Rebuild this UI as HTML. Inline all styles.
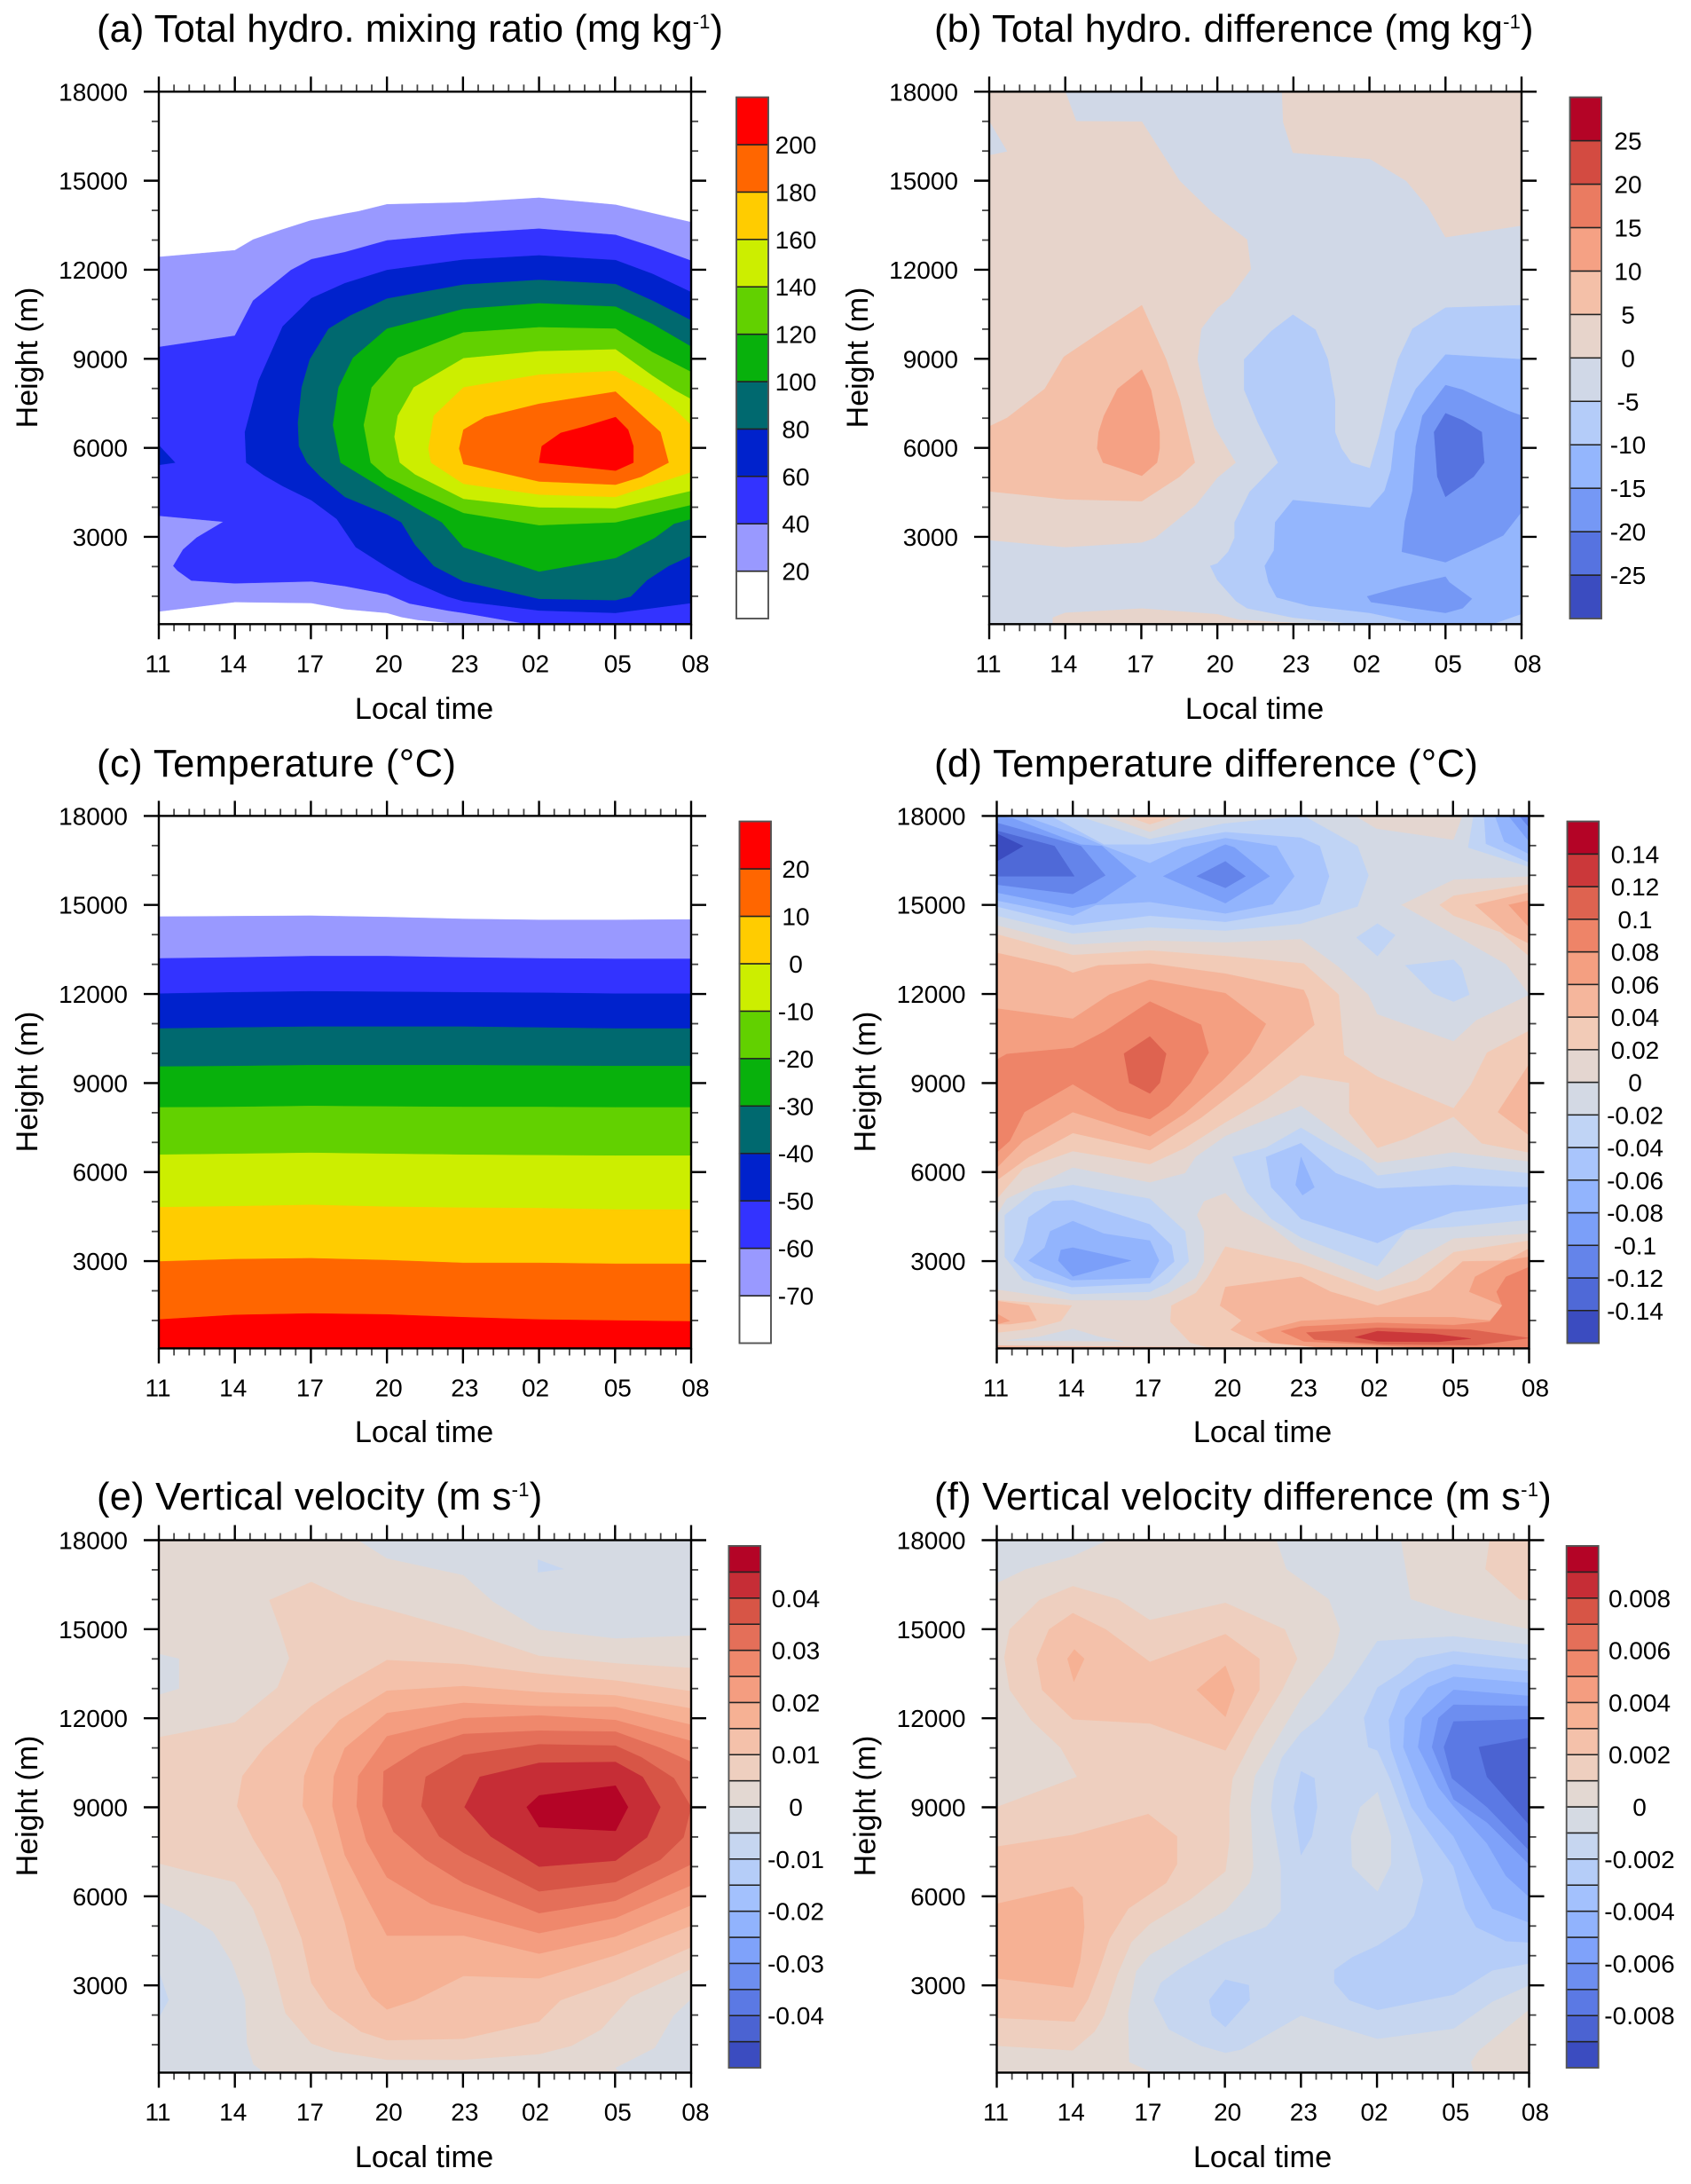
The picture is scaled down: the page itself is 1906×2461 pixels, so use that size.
<!DOCTYPE html>
<html lang="en">
<head>
<meta charset="utf-8">
<title>Diurnal contour panels</title>
<style>
html,body{margin:0;padding:0;background:#fff;}
svg{display:block;font-family:"Liberation Sans",Arial,sans-serif;fill:#000;}
</style>
</head>
<body>
<svg id="figure" xmlns="http://www.w3.org/2000/svg" width="1906" height="2461" viewBox="0 0 1906 2461">
<rect x="0" y="0" width="1906" height="2461" fill="#fff"/>
<defs id="clip-defs"></defs>

<g id="panel-a"></g>
<text x="109" y="47" font-size="43.5" letter-spacing="0.08">(a) Total hydro. mixing ratio (mg kg<tspan dy="-15" font-size="22">-1</tspan><tspan dy="15">)</tspan></text>
<text transform="translate(42 403) rotate(-90)" text-anchor="middle" font-size="34">Height (m)</text>
<text x="478" y="810" text-anchor="middle" font-size="34.3">Local time</text>

<g id="panel-b"></g>
<text x="1053" y="47" font-size="43.5" letter-spacing="0.13">(b) Total hydro. difference (mg kg<tspan dy="-15" font-size="22">-1</tspan><tspan dy="15">)</tspan></text>
<text transform="translate(978 403) rotate(-90)" text-anchor="middle" font-size="34">Height (m)</text>
<text x="1414" y="810" text-anchor="middle" font-size="34.3">Local time</text>

<g id="panel-c"></g>
<text x="109" y="875" font-size="43.5" letter-spacing="0.47">(c) Temperature (°C)</text>
<text transform="translate(42 1219) rotate(-90)" text-anchor="middle" font-size="34">Height (m)</text>
<text x="478" y="1625" text-anchor="middle" font-size="34.3">Local time</text>

<g id="panel-d"></g>
<text x="1053" y="875" font-size="43.5" letter-spacing="0.4">(d) Temperature difference (°C)</text>
<text transform="translate(986.5 1219) rotate(-90)" text-anchor="middle" font-size="34">Height (m)</text>
<text x="1423" y="1625" text-anchor="middle" font-size="34.3">Local time</text>

<g id="panel-e"></g>
<text x="109" y="1701" font-size="43.5" letter-spacing="0.23">(e) Vertical velocity (m s<tspan dy="-15" font-size="22">-1</tspan><tspan dy="15">)</tspan></text>
<text transform="translate(42 2035) rotate(-90)" text-anchor="middle" font-size="34">Height (m)</text>
<text x="478" y="2442" text-anchor="middle" font-size="34.3">Local time</text>

<g id="panel-f"></g>
<text x="1053" y="1701" font-size="43.5" letter-spacing="0.25">(f) Vertical velocity difference (m s<tspan dy="-15" font-size="22">-1</tspan><tspan dy="15">)</tspan></text>
<text transform="translate(986.5 2035) rotate(-90)" text-anchor="middle" font-size="34">Height (m)</text>
<text x="1423" y="2442" text-anchor="middle" font-size="34.3">Local time</text>
</svg>

<script>
/* ===== shared axis data ===== */
const timeLabels = ['11','14','17','20','23','02','05','08'];
const heightLabels = ['18000','15000','12000','9000','6000','3000'];
const heightTicks = [18000,15000,12000,9000,6000,3000];

/* ===== Panel (a): total hydrometeor contours, [hours since 11:00, metres] ===== */
const aBarLabels = ['200','180','160','140','120','100','80','60','40','20'];
const aLevel20 = [[0,12431],[3,12653],[3.72,13017],[4.79,13333],[5.96,13650],[7.34,13887],[7.87,13966],[9,14203],[12.02,14266],[15,14425],[18.02,14187],[19.47,13903],[21,13602],[21,60],[12.02,60],[10.2,203],[9.57,298],[9,440],[7.34,566],[6.02,772],[3,804],[1.38,630],[0,487]];
const aLevel40 = [[0,9394],[3,9774],[3.72,10960],[5.21,11988],[6.02,12352],[7.34,12590],[9,12985],[12.02,13222],[15,13381],[18.02,13175],[19.47,12779],[21,12305],[21,60],[14.57,60],[12.02,440],[11.38,519],[9.89,756],[9,1073],[7.34,1342],[6.02,1500],[3,1436],[1.28,1531],[0.74,1864],[0.57,2022],[0.96,2575],[1.49,2971],[2.55,3509],[0,3715]];
const aLevel60 = [[3.45,5502],[3.4,6530],[3.94,8271],[4.89,10090],[6.02,11039],[7.34,11545],[9,11988],[12.02,12336],[15,12479],[18.02,12321],[19.47,11862],[21,11245],[21,772],[18.02,440],[15,519],[12.02,835],[11.38,994],[9.89,1547],[9,1990],[7.77,2655],[7.02,3604],[6.02,4237],[4.89,4711],[4.15,5075]];
const aLevel60Tip = [[0,6088],[0.64,5502],[0,5423]];
const aLevel80 = [[5.96,8983],[6.7,10011],[7.55,10454],[9,11023],[12.02,11498],[15,11656],[18.02,11514],[19.47,10960],[21,10296],[21,2370],[20.11,2022],[19.26,1547],[18.62,994],[18.02,867],[15,914],[12.02,1500],[10.85,2022],[10.11,2734],[9.57,3493],[9,3762],[7.34,4347],[6.38,5028],[5.85,5502],[5.53,6056],[5.49,6847],[5.64,8033]];
const aLevel100 = [[7.09,8033],[7.66,9030],[9,10011],[12.02,10675],[15,10865],[18.02,10754],[19.47,10169],[21,9410],[21,3604],[20.32,3446],[19.57,2971],[18.02,2291],[15,1832],[12.02,2655],[11.17,3493],[10.11,3999],[9,4553],[7.17,5502],[6.87,6768]];
const aLevel120 = [[8.4,8033],[9.43,9030],[12.02,9884],[15,10058],[18.02,10011],[19.47,9220],[21,8555],[21,4078],[18.02,3493],[15,3398],[12.02,3809],[10.11,4553],[9,5028],[8.36,5502],[8.09,6768]];
const aLevel140 = [[9.43,7084],[10.06,8033],[12.02,9014],[15,9252],[18.02,9315],[19.47,8429],[20.32,7954],[21,7638],[21,4553],[18.02,3968],[15,3999],[12.02,4284],[10.11,5107],[9.51,5502],[9.3,6372]];
const aLevel160 = [[10.64,5977],[10.85,7084],[12.02,8033],[15,8461],[18.02,8587],[19.47,7875],[20.32,7321],[21,6768],[21,5186],[18.02,4347],[15,4426],[12.02,4790],[10.74,5502]];
const aLevel180 = [[11.85,5977],[12.02,6610],[12.87,7037],[15,7480],[18.02,7891],[19.79,6530],[20.11,5502],[19.04,5028],[18.02,4759],[15,4869],[12.02,5455]];
const aLevel200 = [[15,5502],[15.11,6056],[15.85,6499],[16.81,6720],[18.02,7037],[18.51,6610],[18.72,6056],[18.72,5502],[18.02,5233]];

/* ===== Panel (b): total hydrometeor difference ===== */
const bBarLabels = ['25','20','15','10','5','0','-5','-10','-15','-20','-25'];
const bZeroLeft = [[0,18000],[3,18000],[3.43,17003],[6.02,16988],[7.51,14994],[8.79,13934],[10.17,13017],[10.32,12020],[9.47,11039],[9,10723],[8.36,10011],[8.21,8983],[8.47,7875],[8.89,6689],[9.72,5502],[9,4996],[8.15,4078],[6.55,2971],[6.02,2813],[3,2655],[0,2892]];
const bZeroNotch = [[0,17003],[0.7,15991],[0,15864]];
const bZeroTopRight = [[11.55,18000],[21,18000],[21,13491],[18,13096],[17.3,14124],[16.45,14994],[15.02,15738],[11.98,15943],[11.6,16972]];
const bZeroBottom = [[2.51,60],[2.51,282],[3,440],[6.02,582],[9,392],[9.85,203],[13,60]];
const bPlus5 = [[0,6720],[0.7,7005],[2.19,7986],[2.94,9062],[4.32,9853],[6.02,10802],[6.98,8983],[7.51,7638],[8.11,5502],[7.51,5028],[6.02,4205],[3,4268],[0,4537]];
const bPlus10 = [[6.02,8635],[6.38,7954],[6.72,6530],[6.72,5977],[6.62,5502],[6.02,5059],[5.17,5312],[4.49,5502],[4.26,5977],[4.32,6530],[4.53,7084],[5.06,7986]];
const bMinus5 = [[10.06,8983],[11.13,9932],[11.98,10485],[12.87,9979],[13.36,8983],[13.64,7638],[13.64,6530],[13.89,5977],[14.28,5502],[15.02,5312],[15.38,6372],[15.81,7954],[16.13,8983],[16.7,10011],[18,10723],[21,10802],[21,60],[14.53,60],[11.98,282],[10.17,598],[9.74,835],[9,1547],[8.72,2022],[9,2101],[9.43,2496],[9.68,2971],[9.68,3493],[10.28,4521],[11.4,5502],[10.6,6847],[10.06,7954]];
const bMinus10 = [[11.28,3493],[11.98,4237],[15.02,3983],[15.6,4553],[15.85,5265],[16.02,6530],[16.83,7986],[18,9141],[21,8983],[21,408],[19.85,60],[17.09,60],[15.02,440],[12.62,677],[11.34,962],[11.02,1468],[10.87,2022],[11.23,2544]];
const bMinus15Main = [[16.28,2496],[16.4,3525],[16.7,4553],[16.83,6056],[17.09,7084],[18,8112],[18.68,7954],[20.49,7242],[21,7084],[21,3841],[20.28,3050],[19.32,2655],[18,2148]];
const bMinus15Low = [[14.91,994],[16.23,1310],[18,1658],[18.15,1468],[19.04,914],[18.68,598],[18,440],[15.06,804]];
const bMinus20 = [[18,7163],[18.68,6926],[19.43,6530],[19.53,5502],[19.11,5028],[18,4347],[17.68,5028],[17.55,6530]];

/* ===== Panel (c): temperature band tops sampled at synoptic hours ===== */
const cBarLabels = ['20','10','0','-10','-20','-30','-40','-50','-60','-70'];
const cHours = [0,3,6,9,12,15,18,21];
const cTopMinus70 = [14606,14622,14637,14590,14528,14497,14497,14512];
const cTopMinus60 = [13199,13230,13277,13277,13230,13199,13183,13183];
const cTopMinus50 = [12010,12057,12088,12073,12057,12041,12010,12010];
const cTopMinus40 = [10837,10868,10900,10900,10900,10868,10837,10837];
const cTopMinus30 = [9554,9570,9601,9601,9601,9586,9570,9570];
const cTopMinus20 = [8178,8194,8225,8209,8194,8194,8178,8178];
const cTopMinus10 = [6583,6614,6646,6614,6583,6567,6552,6552];
const cTopZero = [4815,4846,4893,4831,4800,4784,4737,4737];
const cTopPlus10 = [2986,3064,3095,3033,2939,2939,2908,2908];
const cTopPlus20 = [1031,1187,1234,1203,1109,1031,1000,969];

/* ===== Panel (d): temperature difference ===== */
const dBarLabels = ['0.14','0.12','0.1','0.08','0.06','0.04','0.02','0','-0.02','-0.04','-0.06','-0.08','-0.1','-0.12','-0.14'];
const dM00Top = [[0,18000],[4.23,18000],[6.04,17453],[7.85,18000],[14.13,18000],[14.98,17563],[18.02,17187],[18.38,18000],[21,18000],[21,15967],[18.02,15858],[15.94,15000],[17.85,14090],[20.09,12996],[21,11979],[18.91,11119],[18.02,10415],[15.02,11322],[14.66,11979],[13.49,12917],[12,13856],[9.02,13746],[6.04,13809],[3,13668],[0,14325]];
const dM02Top = [[0,18000],[3.17,18000],[6.04,17218],[8.91,17735],[12.11,18000],[14.23,16984],[14.66,15998],[14.23,14951],[12,14372],[9.02,14137],[6.04,14247],[3,14044],[0,14638]];
const dM04Top = [[0,18000],[2.11,18000],[4.23,17031],[6.04,17031],[9.02,17453],[12,17265],[12.74,16984],[13.11,15967],[12.74,15029],[12,14841],[9.02,14434],[6.04,14638],[3,14325],[0,14951]];
const dM06Top = [[0,18000],[1.04,18000],[3.38,17297],[4.23,16984],[6.04,16405],[7.32,16937],[9.02,17250],[11.04,16984],[11.74,15967],[10.89,15029],[9.02,14716],[6.04,15107],[3.91,14998],[3,14638],[0,15154]];
const dM08TopLeft = [[0,18000],[0.62,17922],[3.32,17031],[4.15,16984],[5.51,15967],[3.91,15060],[3,14904],[0,15420]];
const dM08TopMid = [[6.57,15967],[8.74,16937],[9.02,17031],[9.38,16937],[10.77,15967],[9.02,15060]];
const dM10TopLeft = [[0,17766],[3.32,16984],[4.28,15998],[3,15373],[0,15686]];
const dM10TopMid = [[7.89,15967],[9.02,16468],[9.81,15967],[9.02,15576]];
const dM12TopLeft = [[0,17500],[2.28,16984],[3.06,15967],[0,15967]];
const dM14TopLeft = [[0,17406],[1.04,16984],[0,16468]];
const dM02Corner = [[18.81,18000],[18.6,16937],[21,16280],[21,18000]];
const dM04Corner = [[19.23,18000],[19.3,17062],[21,16436],[21,18000]];
const dM06Corner = [[19.66,18000],[20.02,17140],[21,16718],[21,18000]];
const dM08Corner = [[20.19,18000],[21,17140],[21,18000]];
const dM10Corner = [[20.62,18000],[21,17609],[21,18000]];
const dM02BlobA = [[14.19,13903],[15.02,14372],[15.72,13981],[15.02,13277]];
const dM02BlobB = [[16.11,12964],[18.02,13152],[18.34,12870],[18.64,11979],[18.02,11745],[17.21,12026]];
const dP02Wedge = [[17.47,15000],[18.02,15310],[21,15686],[21,13277],[19.87,14090],[18.02,14638]];
const dP04Wedge = [[18.87,15000],[21,15420],[21,13699],[20.09,14090]];
const dP06Wedge = [[20.19,15000],[21,15154],[21,14247]];
const dP02TopTip = [[5.09,18000],[6.04,17719],[7.11,18000]];
const dP02Mid = [[0,14012],[3,13308],[6.04,13465],[9.02,13277],[12.11,13027],[13.49,11979],[13.7,9946],[15.02,9211],[18.02,8147],[18.7,8929],[19.34,10024],[21,10759],[21,6661],[19.13,6974],[18.02,7866],[16.15,7131],[15.02,6818],[13.91,7991],[13.91,9007],[12,9273],[10.62,8460],[9.02,7678],[7.43,6818],[6.04,6270],[3,6708],[1.04,6114],[0,5097]];
const dP04Mid = [[0,13387],[2.43,12917],[3,12714],[4.02,12964],[6.04,13027],[9.02,12683],[12.11,12135],[12.28,11823],[12.53,10962],[12,10571],[9.98,9086],[8.06,7834],[6.04,6740],[3,7318],[1.26,6505],[0,5723]];
const dP04Right = [[19.77,8022],[21,9633],[21,7240]];
const dP06Mid = [[0,11510],[3,11166],[4.45,11979],[6.04,12479],[9.02,12026],[10.62,10994],[9.98,10024],[8.91,9086],[7.43,7990],[6.04,7209],[3,8022],[1.04,7052],[0,6145]];
const dP08Mid = [[0,9789],[0.4,9977],[3,10180],[4.23,10728],[6.04,11744],[8.06,10962],[8.36,10024],[7.64,9007],[6.79,8225],[6.04,7787],[4.77,8069],[3,8960],[1.09,8022],[0.51,7052],[0,6661]];
const dP10Mid = [[5.02,9993],[6.04,10571],[6.68,9993],[6.43,9007],[6.04,8648],[5.23,9007]];
const dM00Low = [[0,4550],[0.4,5097],[3,6145],[6.04,5645],[7.43,5958],[7.85,6505],[9.02,7209],[12,8225],[15.02,6302],[18.02,6661],[21,6349],[21,3938],[18.02,3768],[15.02,2360],[12,3378],[10.83,4159],[9.66,4706],[9.02,5301],[8.17,5019],[7.89,4550],[8.17,4003],[8.17,2986],[7.85,2439],[6.79,1922],[5.94,1688],[2.96,1688],[0,2048]];
const dM02LowRight = [[9.3,6505],[10.62,6818],[12,7490],[13.17,6896],[14.45,6349],[15.02,5880],[18.02,6192],[21,5958],[21,4394],[18.02,4159],[16.15,4049],[15.02,2830],[12,3799],[10.83,4425],[9.87,5332]];
const dM04LowRight = [[10.62,6505],[12,6974],[13.38,5958],[15.02,5441],[18.02,5566],[21,5488],[21,4941],[18.02,4659],[16.36,4159],[15.02,3612],[12,4425],[10.83,5488]];
const dM06LowRight = [[12,6505],[12.53,5488],[12.06,5223],[11.79,5566]];
const dM02LowLeft = [[0.32,4550],[1.47,5332],[3,5566],[6.04,5097],[7.43,4003],[7.57,2986],[6.79,2282],[6.04,1969],[2.96,1891],[1.04,2360],[0.32,3143]];
const dM04LowLeft = [[1.26,4472],[2.21,5019],[3,5051],[6.04,4237],[6.89,3533],[7,2986],[6.04,2251],[2.96,2126],[1.47,2439],[0.66,3018],[1.04,3612]];
const dM06LowLeft = [[2.11,4003],[3,4347],[4.23,3924],[6.04,3690],[6.4,3018],[6.04,2439],[2.96,2360],[1.89,2752],[1.26,3018],[1.89,3455]];
const dM08LowLeft = [[2.53,3377],[3,3455],[5.3,3018],[3,2485],[2.43,3018]];
const dM00Patch = [[0.4,327],[1.68,452],[3,718],[4.02,452],[4.98,296]];
const dP02Left = [[0,1688],[2.96,1500],[2.53,985],[1.36,718],[0,593]];
const dP04Left = [[0,1657],[1.26,1500],[1.57,1000],[0.51,875],[0,875]];
const dP06Left = [[0,1233],[0.51,985],[0,875]];
const dP02Low = [[6.89,1500],[7.85,1922],[8.32,2439],[9.02,3486],[12,2908],[15.02,1969],[16.57,2360],[18.02,3299],[21,3690],[21,60],[8.5,60],[7.64,250],[6.85,953]];
const dP04Low = [[8.81,1500],[9.02,2126],[12,2470],[13.17,1969],[15.02,1500],[17.11,2016],[18.38,2986],[20.09,3018],[21,3424],[21,60],[13.17,60],[10.19,296],[9.23,687],[9.66,1000]];
const dP04Base = [[0,150],[9,90],[9,60],[0,60]];
const dP06Low = [[10.23,593],[12,985],[15.02,1109],[18.02,1109],[19.45,1000],[19.98,1500],[18.64,1969],[18.87,2470],[20.09,3018],[21,3143],[21,60],[13.17,60],[10.83,250]];
const dP08Low = [[11.21,640],[12,796],[15.02,921],[18.02,843],[19.45,953],[19.94,1500],[19.72,1969],[20.09,2470],[21,2798],[21,90],[18.1,60],[17.43,60],[12.11,296]];
const dP10Low = [[12.21,593],[15.02,750],[18.7,687],[21,406],[18.91,171],[15.3,202],[12.53,358]];
const dP12Low = [[14.13,437],[15.02,640],[17.21,546],[18.7,390],[17.43,280],[15.02,296]];

/* ===== Panel (e): vertical velocity ===== */
const eBarLabels = ['0.04','0.03','0.02','0.01','0','-0.01','-0.02','-0.03','-0.04'];
const eNegTopRight = [[7.87,18000],[21,18000],[21,14788],[18.02,14694],[15,14992],[13.19,15932],[12.02,16825],[9,17389]];
const eNegLeftSmall = [[0,14161],[0.79,14005],[0.79,13002],[0,12798]];
const eNegBottomLeft = [[0,5794],[0.96,5433],[2.13,4806],[2.87,3787],[3.4,2534],[3.47,1045],[3.72,340],[4.15,60],[0,60]];
const eNegBottomRight = [[18.02,215],[19.57,888],[20.32,1985],[21,2534],[21,60],[18.19,60]];
const eNeg2Top = [[14.96,17342],[15.96,17029],[14.96,16919]];
const eNeg2Left = [[0,3474],[0.38,2503],[0,1907]];
const ePos005 = [[4.36,15979],[6.02,16590],[7.55,15979],[9,15666],[12.02,14945],[15,14099],[18.02,13848],[21,13691],[21,3553],[18.62,2613],[18.02,2064],[17.45,1516],[16.28,967],[15,685],[12.02,497],[9,497],[6.91,779],[6.02,1045],[5,2064],[4.36,4179],[3.72,5590],[3,6483],[1.6,6765],[0,7110],[0,11356],[3,11858],[4.68,13033],[5.15,14020],[4.79,14992]];
const ePos010 = [[3.09,9037],[3.3,10056],[4.15,10996],[6.02,12406],[7.13,13033],[9,13957],[12.02,13817],[15,13503],[18.02,13268],[21,12908],[21,4289],[18.02,3161],[15.85,2503],[15,1782],[12.02,1202],[9,1155],[7.98,1437],[6.7,2221],[6.02,3082],[5.64,4571],[4.79,6452],[3.72,7940]];
const ePos015 = [[5.68,9037],[5.74,10056],[6.17,10996],[7.13,11936],[9,12923],[12.02,13080],[15,12876],[18.02,12767],[21,12328],[21,5010],[18.02,4023],[15,3239],[12.02,3318],[10.11,2503],[9,2189],[8.4,2613],[7.77,3553],[7.34,5120],[6.06,8332]];
const ePos020 = [[6.85,9037],[6.91,10056],[7.34,10996],[9,12171],[12.02,12516],[15,12406],[18.02,12375],[21,11779],[21,5699],[18.02,4650],[15,4070],[12.02,4681],[9,4681],[8.19,5981],[7.34,7392]];
const ePos025 = [[7.81,9037],[7.87,10056],[9,11388],[12.02,12000],[15,12093],[18.02,11936],[21,11231],[21,6373],[18.02,5276],[15,4759],[10.74,5746],[9,6640],[8.19,7862]];
const ePos030 = [[8.83,9037],[8.87,10212],[10.32,10996],[12.02,11466],[15,11576],[18.02,11544],[19.79,10996],[21,10526],[21,7078],[18.02,5856],[15,5433],[12.02,6452],[10.53,7235],[9.26,8175]];
const ePos035 = [[10.36,9037],[10.53,10024],[12.02,10761],[15,11121],[18.02,11074],[19.04,10682],[20.32,9977],[21,9006],[20.7,7987],[19.79,7235],[18.02,6483],[15,6169],[12.02,7470],[11.06,8018]];
const ePos040 = [[12.06,9006],[12.66,10024],[15,10494],[18.02,10526],[19.09,10024],[19.79,9006],[19.26,7987],[18.02,7204],[15,7000],[13.09,8018]];
const ePos045 = [[14.51,9006],[15,9397],[18.02,9727],[18.51,9006],[18.02,8207],[15,8332]];

/* ===== Panel (f): vertical velocity difference ===== */
const fBarLabels = ['0.008','0.006','0.004','0.002','0','-0.002','-0.004','-0.006','-0.008'];
const fNegTopLeft = [[0,18000],[4.38,18000],[2.96,17452],[1.15,17029],[0,16559]];
const fNegCentral = [[11.04,18000],[15.94,18000],[16.32,16010],[18.02,15540],[21,14992],[21,2189],[19.02,810],[18.7,419],[18.81,60],[6.15,60],[5.23,419],[5.19,2064],[5.51,3474],[6.04,4023],[9.02,5511],[9.98,6452],[10.13,7000],[10.02,9006],[10.19,10056],[12,12641],[13.28,14052],[13.55,14992],[13.11,16010],[11.43,17029]];
const fPos1Corner = [[19.45,18000],[19.28,17029],[20.62,16010],[21,15979],[21,18000]];
const fPos1Main = [[0,9006],[3.17,10024],[2.53,10996],[1.36,11936],[0.51,12955],[0.3,14052],[0.51,14992],[1.68,15979],[3,16449],[4.77,16010],[6.04,15305],[9.02,15885],[11.36,14992],[11.85,14005],[11.26,12955],[10.19,11466],[9.3,9977],[9.17,9006],[9.17,7862],[9.02,6843],[7.64,5903],[6.04,5073],[5.3,4446],[4.77,3396],[4.23,1985],[3.85,1437],[3,810],[0,967]];
const fPos2Upper = [[1.57,14005],[2.06,14992],[3,15540],[4.3,14992],[6.04,13895],[9.02,14835],[10.36,14005],[10.36,12955],[9.02,10918],[6.04,11826],[3,11967],[1.79,12955]];
const fPos3TipA = [[2.79,14005],[3.06,14318],[3.45,14005],[3.04,13237]];
const fPos3TipB = [[7.89,12955],[9.02,13770],[9.38,12955],[9.02,12046]];
const fPos2Lower = [[0,7674],[3,8066],[5.98,8771],[7.11,8018],[7.11,7078],[6.68,6452],[5.19,5590],[4.45,4571],[4.02,3474],[3.6,2534],[3.06,1782],[0,1907]];
const fPos3Lower = [[0,5746],[3,6326],[3.38,5981],[3.45,4963],[3.28,3788],[3,2926],[0,3239]];
const fNeg2Main = [[15.02,14600],[18.02,14757],[21,14475],[21,3004],[19.55,2456],[18.02,1547],[15.02,1202],[12,1985],[9.66,842],[9.02,732],[8.06,967],[6.79,1516],[6.19,2503],[6.47,3082],[7.21,3553],[9.02,4446],[10.62,4963],[11.21,5511],[11.21,7000],[10.83,9006],[10.94,9899],[11.26,10682],[12,11513],[12.74,12014],[13.91,13190]];
const fNegLens = [[15.02,9507],[14.34,9006],[13.98,8018],[14.02,7000],[15.02,6169],[15.55,7078],[15.55,8018]];
const fNeg3Main = [[21,13973],[18.02,14255],[16.57,14020],[15.94,13534],[15.02,13033],[14.49,12014],[14.66,11027],[15.02,10918],[15.55,9899],[16.36,8018],[16.83,6530],[16.47,5355],[16.15,4963],[15.02,4336],[14.02,3944],[13.32,3521],[13.32,3082],[13.91,2503],[15.02,2174],[18.02,2691],[19.55,3506],[21,3741]];
const fNeg3Upper = [[12,10212],[12.53,9977],[12.64,9006],[12.43,8018],[12,7392],[11.72,9006]];
const fNeg3Lower = [[9.02,3192],[9.94,3004],[9.98,2503],[9.02,1594],[8.49,1985],[8.38,2503]];
const fNeg4 = [[21,13581],[18.02,13817],[17,13534],[15.94,12955],[15.47,11936],[15.55,10996],[16.36,9006],[18.02,7000],[18.49,5590],[18.91,4963],[20.09,4493],[21,4446]];
const fNeg5 = [[21,13190],[18.02,13393],[17,13033],[16.11,12014],[16.04,11027],[17,9006],[18.02,8018],[18.81,6686],[19.55,5590],[21,5120]];
const fNeg6 = [[21,12751],[18.02,12955],[16.79,12014],[16.62,11027],[17.43,9664],[18.02,9037],[19.34,7784],[20.09,6686],[21,5981]];
const fNeg7 = [[21,12406],[18.02,12453],[17.43,12014],[17.17,11027],[18.02,9272],[19.34,8489],[21,7078]];
const fNeg8 = [[21,11967],[18.02,11889],[17.64,11027],[17.96,9977],[19.34,9006],[21,7548]];
const fNeg9 = [[21,11341],[19.02,11027],[19.34,10024],[21,8410]];

/* ===== palettes and layout (styling, not data) ===== */
const rainbow = ['#ffffff','#9999ff','#3333ff','#0022cc','#00696f','#08b10c','#62d100','#ccee00','#ffcc00','#ff6600','#ff0000'];
const coolAnchors = [[59,76,192],[89,119,227],[123,159,249],[158,190,255],[192,212,245],[221,220,220],[242,203,183],[247,172,142],[238,132,104],[214,82,68],[180,4,38]];
function coolwarm(n){
  const out=[];
  for(let i=0;i<n;i++){
    const t=i/(n-1)*10, k=Math.min(9,Math.floor(t)), f=t-k;
    const c=coolAnchors[k].map((v,j)=>Math.round(v+(coolAnchors[k+1][j]-v)*f));
    out.push('rgb('+c.join(',')+')');
  }
  return out;
}
const FRAME=600, BOTTOM_H=60, HOURS=21;
const leftTickLabelNudge=[-1,-2,-1,2,2,-4,3,5];
const rightTickLabelNudge=[-1,-2,-1,3,3,-3,3,7];
const NS='http://www.w3.org/2000/svg';
function mk(tag,attrs,parent){
  const e=document.createElementNS(NS,tag);
  for(const k in attrs) e.setAttribute(k,attrs[k]);
  parent.appendChild(e);
  return e;
}

function drawPanel(p){
  const g=document.getElementById(p.id);
  const x=u=>p.L+u*FRAME/HOURS;
  const y=h=>p.T+(18000-h)*FRAME/(18000-BOTTOM_H);
  const defs=document.getElementById('clip-defs');
  const cp=mk('clipPath',{id:'clip-'+p.id},defs);
  mk('rect',{x:p.L,y:p.T,width:FRAME,height:FRAME},cp);

  const field=mk('g',{'clip-path':'url(#clip-'+p.id+')'},g);
  
  
  const bg=mk('rect',{x:p.L,y:p.T,width:FRAME,height:FRAME,fill:p.colors[p.base]},field);
  
  
  p.regions.forEach(r=>{
    const pts=r[1].map(q=>x(q[0]).toFixed(1)+','+y(q[1]).toFixed(1)).join(' ');
    const poly=mk('polygon',{points:pts,fill:p.colors[r[0]],stroke:p.colors[r[0]],'stroke-width':0.4},field);
    
    
  });

  const axes=mk('g',{stroke:'#000',fill:'none'},g);
  
  
  for(let i=0;i<=35;i++){
    const u=i*0.6, major=i%5===0, len=major?17:8;
    const sw=major?2.4:1.8, col=major?'#000':'#444';
    const a=mk('line',{x1:x(u),x2:x(u),y1:p.T,y2:p.T-len,'stroke-width':sw,stroke:col},axes);
    
    
    const b=mk('line',{x1:x(u),x2:x(u),y1:p.T+FRAME,y2:p.T+FRAME+len,'stroke-width':sw,stroke:col},axes);
    
    
  }
  for(let h=18000;h>=1000;h-=1000){
    const major=h%3000===0, len=major?17:8;
    const sw=major?2.4:1.8, col=major?'#000':'#444';
    const a=mk('line',{x1:p.L,x2:p.L-len,y1:y(h),y2:y(h),'stroke-width':sw,stroke:col},axes);
    
    
    const b=mk('line',{x1:p.L+FRAME,x2:p.L+FRAME+len,y1:y(h),y2:y(h),'stroke-width':sw,stroke:col},axes);
    
    
  }
  const frame=mk('rect',{x:p.L,y:p.T,width:FRAME,height:FRAME,fill:'none',stroke:'#000','stroke-width':2.4},axes);
  
  

  const nudge=p.L>600?rightTickLabelNudge:leftTickLabelNudge;
  timeLabels.forEach((s,i)=>{
    const t=mk('text',{x:x(i*3)+nudge[i],y:p.T+FRAME+54,'text-anchor':'middle','font-size':28},g);
    t.textContent=s;
    
    
  });
  heightTicks.forEach((h,i)=>{
    const t=mk('text',{x:p.L-35,y:y(h)+10,'text-anchor':'end','font-size':28},g);
    t.textContent=heightLabels[i];
    
    
  });

  const n=p.barColors.length, bh=(p.barB-p.barT)/n;
  const bar=mk('g',{},g);
  
  
  p.barColors.forEach((c,i)=>{
    const r=mk('rect',{x:p.barL,y:p.barB-(i+1)*bh,width:p.barR-p.barL,height:bh,fill:c,stroke:'#222','stroke-width':1.5},bar);
    
    
  });
  const outline=mk('rect',{x:p.barL,y:p.barT,width:p.barR-p.barL,height:p.barB-p.barT,fill:'none',stroke:'#555','stroke-width':1.8},bar);
  
  
  p.barLabels.forEach((s,i)=>{
    const t=mk('text',{x:p.barLabelX,y:p.barT+(i+1)*p.labelStep*bh+10,'text-anchor':'middle','font-size':28},bar);
    t.textContent=s;
    
    
  });
}

function bandPolygon(tops){
  const pts=cHours.map((h,i)=>[h,tops[i]]);
  pts.push([21,BOTTOM_H]);
  pts.push([0,BOTTOM_H]);
  return pts;
}

const cool12=coolwarm(12), cool16=coolwarm(16), cool20=coolwarm(20);

drawPanel({id:'panel-a',L:179,T:103.3,colors:rainbow,base:0,barColors:rainbow,barLabels:aBarLabels,labelStep:1,
  barL:830,barR:866,barT:109.6,barB:697,barLabelX:897,
  regions:[[1,aLevel20],[2,aLevel40],[3,aLevel60],[3,aLevel60Tip],[4,aLevel80],[5,aLevel100],[6,aLevel120],[7,aLevel140],[8,aLevel160],[9,aLevel180],[10,aLevel200]]});

drawPanel({id:'panel-b',L:1115,T:103.3,colors:cool12,base:5,barColors:cool12,barLabels:bBarLabels,labelStep:1,
  barL:1769.5,barR:1805,barT:109.6,barB:697,barLabelX:1835,
  regions:[[6,bZeroLeft],[5,bZeroNotch],[6,bZeroTopRight],[6,bZeroBottom],[7,bPlus5],[8,bPlus10],[4,bMinus5],[3,bMinus10],[2,bMinus15Main],[2,bMinus15Low],[1,bMinus20]]});

drawPanel({id:'panel-c',L:179,T:919.4,colors:rainbow,base:0,barColors:rainbow,barLabels:cBarLabels,labelStep:1,
  barL:833.5,barR:869,barT:925.6,barB:1513.5,barLabelX:897,
  regions:[[1,bandPolygon(cTopMinus70)],[2,bandPolygon(cTopMinus60)],[3,bandPolygon(cTopMinus50)],[4,bandPolygon(cTopMinus40)],[5,bandPolygon(cTopMinus30)],[6,bandPolygon(cTopMinus20)],[7,bandPolygon(cTopMinus10)],[8,bandPolygon(cTopZero)],[9,bandPolygon(cTopPlus10)],[10,bandPolygon(cTopPlus20)]]});

drawPanel({id:'panel-d',L:1123.5,T:919.4,colors:cool16,base:8,barColors:cool16,barLabels:dBarLabels,labelStep:1,
  barL:1766.5,barR:1802.2,barT:925.6,barB:1513.5,barLabelX:1843,
  regions:[[7,dM00Top],[6,dM02Top],[5,dM04Top],[4,dM06Top],[3,dM08TopLeft],[3,dM08TopMid],[2,dM10TopLeft],[2,dM10TopMid],[1,dM12TopLeft],[0,dM14TopLeft],
    [6,dM02Corner],[5,dM04Corner],[4,dM06Corner],[3,dM08Corner],[2,dM10Corner],[6,dM02BlobA],[6,dM02BlobB],
    [9,dP02Wedge],[10,dP04Wedge],[11,dP06Wedge],[9,dP02TopTip],
    [9,dP02Mid],[10,dP04Mid],[10,dP04Right],[11,dP06Mid],[12,dP08Mid],[13,dP10Mid],
    [7,dM00Low],[6,dM02LowRight],[5,dM04LowRight],[4,dM06LowRight],[6,dM02LowLeft],[5,dM04LowLeft],[4,dM06LowLeft],[3,dM08LowLeft],
    [7,dM00Patch],[9,dP02Left],[10,dP04Left],[11,dP06Left],
    [9,dP02Low],[10,dP04Low],[10,dP04Base],[11,dP06Low],[12,dP08Low],[13,dP10Low],[14,dP12Low]]});

drawPanel({id:'panel-e',L:179,T:1735.5,colors:cool20,base:10,barColors:cool20,barLabels:eBarLabels,labelStep:2,
  barL:821.4,barR:857.2,barT:1742,barB:2330,barLabelX:897,
  regions:[[9,eNegTopRight],[9,eNegLeftSmall],[9,eNegBottomLeft],[9,eNegBottomRight],[8,eNeg2Top],[8,eNeg2Left],[11,ePos005],[12,ePos010],[13,ePos015],[14,ePos020],[15,ePos025],[16,ePos030],[17,ePos035],[18,ePos040],[19,ePos045]]});

drawPanel({id:'panel-f',L:1123.5,T:1735.5,colors:cool20,base:10,barColors:cool20,barLabels:fBarLabels,labelStep:2,
  barL:1765.7,barR:1801.7,barT:1742,barB:2330,barLabelX:1848,
  regions:[[9,fNegTopLeft],[9,fNegCentral],[11,fPos1Corner],[11,fPos1Main],[12,fPos2Upper],[13,fPos3TipA],[13,fPos3TipB],[12,fPos2Lower],[13,fPos3Lower],[8,fNeg2Main],[9,fNegLens],[7,fNeg3Main],[7,fNeg3Upper],[7,fNeg3Lower],[6,fNeg4],[5,fNeg5],[4,fNeg6],[3,fNeg7],[2,fNeg8],[1,fNeg9]]});
</script>
</body>
</html>
